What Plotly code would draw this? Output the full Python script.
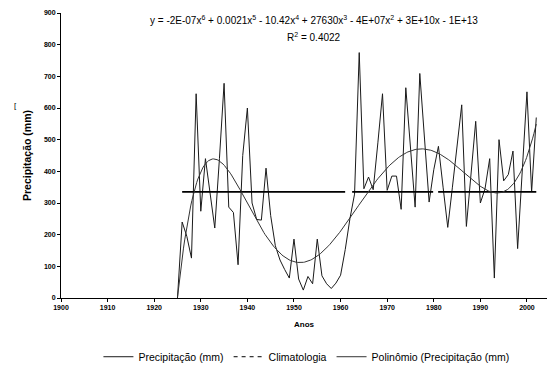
import numpy as np
import plotly.graph_objects as go

# ---- data ----
years = list(range(1925, 2003))
precip = [
    0, 240, 195, 126, 645, 274, 440, 331, 221, 440,     # 1925-1934
    678, 287, 270, 105, 450, 600, 300, 248, 246, 410,   # 1935-1944
    260, 165, 120, 90, 63, 186, 60, 25, 68, 45,         # 1945-1954
    186, 70, 45, 30, 47, 72, 153, 250, 328, 775,        # 1955-1964
    345, 382, 342, 490, 645, 340, 385, 385, 280, 664,   # 1965-1974
    470, 287, 709, 500, 303, 405, 479, 350, 223, 350,   # 1975-1984
    480, 610, 226, 390, 558, 300, 345, 440, 63, 500,    # 1985-1994
    370, 390, 464, 156, 400, 651, 335, 570,             # 1995-2002
]
clim_years = [1926, 2002]
clim_values = [335, 335]

x_ticks = list(range(1900, 2001, 10))
y_ticks = list(range(0, 901, 100))

equation = ("y = -2E-07x<sup>6</sup> + 0.0021x<sup>5</sup> - 10.42x<sup>4</sup> + "
            "27630x<sup>3</sup> - 4E+07x<sup>2</sup> + 3E+10x - 1E+13")
r2_text = "R<sup>2</sup> = 0.4022"

# polynomial (order 6) trend of the precipitation series
xa = np.array(years, dtype=float)
xc = (xa - 1963.5) / 40.0
coef = np.polyfit(xc, np.array(precip, dtype=float), 6)
trend_x = np.linspace(years[0], years[-1], 300)
trend_y = np.polyval(coef, (trend_x - 1963.5) / 40.0)

FONT = "Liberation Sans, Arial, sans-serif"
BLACK = "#000000"

fig = go.Figure()
fig.add_trace(go.Scatter(
    x=years, y=precip, mode="lines", name="Precipitação (mm)",
    line=dict(color="#1a1a1a", width=1), showlegend=True))
fig.add_trace(go.Scatter(
    x=clim_years, y=clim_values, mode="lines", name="Climatologia",
    line=dict(color=BLACK, width=1.6, dash="163px,7px,81px,5px,200px,5px"),
    showlegend=False))
fig.add_trace(go.Scatter(
    x=[None], y=[None], mode="lines", name="Climatologia",
    line=dict(color=BLACK, width=1, dash="4px,4px"), showlegend=True))
fig.add_trace(go.Scatter(
    x=trend_x, y=trend_y, mode="lines", name="Polinômio (Precipitação (mm)",
    line=dict(color="#333333", width=1), showlegend=True))

fig.update_layout(
    template="none",
    width=548, height=367,
    margin=dict(l=61, r=1, t=13, b=69),
    paper_bgcolor="white", plot_bgcolor="white",
    font=dict(family=FONT, color=BLACK),
    showlegend=True,
    legend=dict(orientation="h", x=0.505, xanchor="center",
                yref="container", y=0.028, yanchor="middle",
                font=dict(size=10.5, family=FONT, color=BLACK), itemwidth=30,
                bgcolor="rgba(0,0,0,0)"),
    xaxis=dict(range=[1900, 2004.3], tickvals=x_ticks,
               ticktext=["<b>%d</b>" % v for v in x_ticks], color=BLACK,
               showgrid=False, zeroline=False, showline=True, linecolor=BLACK, linewidth=1,
               ticks="outside", ticklen=3, tickcolor=BLACK,
               tickfont=dict(size=7, family=FONT, color=BLACK),
               title=dict(text="<b>Anos</b>", font=dict(size=8, color=BLACK), standoff=10)),
    yaxis=dict(range=[0, 900], tickvals=y_ticks,
               ticktext=["<b>%d</b>" % v for v in y_ticks], color=BLACK,
               showgrid=False, zeroline=False, showline=True, linecolor=BLACK, linewidth=1,
               ticks="outside", ticklen=3, tickcolor=BLACK,
               tickfont=dict(size=7, family=FONT, color=BLACK),
               title=dict(text="<b>Precipitação (mm)</b>", font=dict(size=10.5, color=BLACK),
                          standoff=10)),
)

fig.add_annotation(text=equation, xref="paper", yref="paper", x=0.52, y=1.0,
                   xanchor="center", yanchor="middle", showarrow=False,
                   font=dict(size=10, family=FONT, color=BLACK), yshift=-7)
fig.add_annotation(text=r2_text, xref="paper", yref="paper", x=0.52, y=1.0,
                   xanchor="center", yanchor="middle", showarrow=False,
                   font=dict(size=10, family=FONT, color=BLACK), yshift=-24)
fig.add_annotation(text="[", xref="paper", yref="paper", x=0, y=1.0, xshift=-49, yshift=-86,
                   showarrow=False, font=dict(size=8, family=FONT, color=BLACK))

fig.write_html("out.html")
